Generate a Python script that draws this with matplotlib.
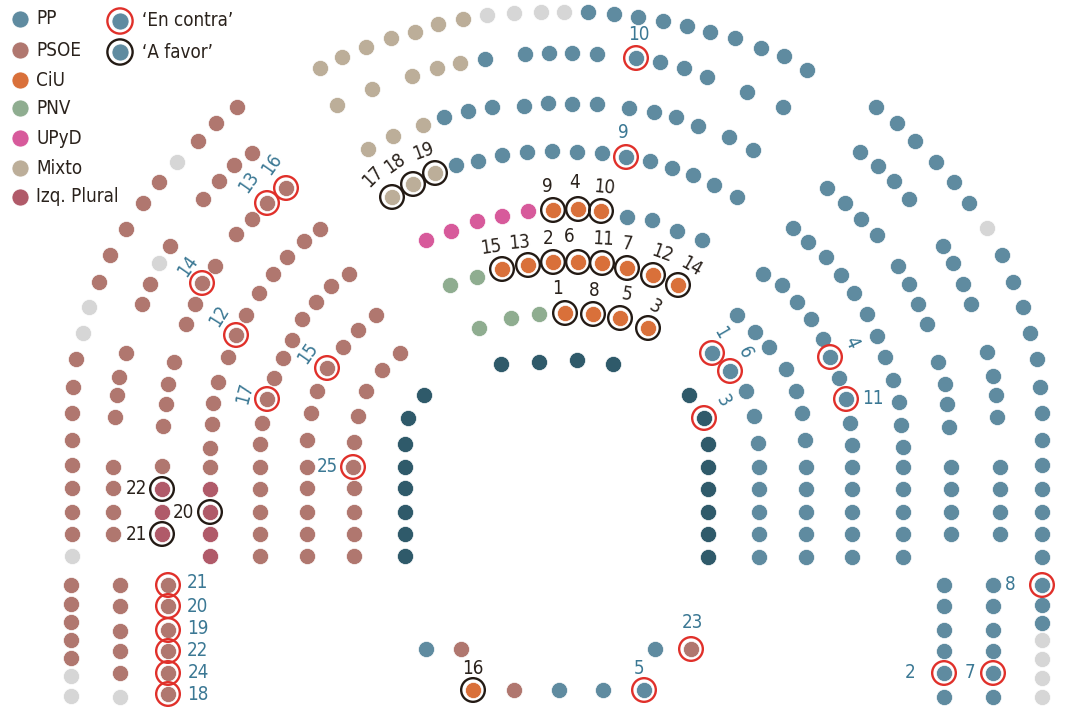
import matplotlib
matplotlib.use("Agg")
import matplotlib.pyplot as plt

plt.rcParams["font.family"] = ["DejaVu Sans"]
plt.rcParams["font.stretch"] = "condensed"

# ---------------- data ----------------
parties = ["PP", "PSOE", "CiU", "PNV", "UPyD", "Mixto", "Izq. Plural"]

# Seat map (x, y in the chart's seat-map units, y grows downwards)
seats_pp = [
    # row 8
    (588, 12), (614, 14), (638, 17), (663, 21), (687, 26), (710, 32), (735, 38), (761, 48), (784, 56), (807, 70),
    (876, 107), (897, 123), (915, 141), (936, 162), (954, 182), (969, 203),
    (1002, 255), (1013, 282), (1023, 307), (1030, 333), (1037, 359), (1040, 387), (1042, 413), (1042, 440),
    (1042, 465), (1042, 489), (1042, 512), (1042, 534), (1042, 557), (1042, 585), (1042, 605), (1042, 623),
    # row 7
    (485, 59), (525, 54), (549, 53), (572, 53), (597, 54), (636, 58), (660, 62), (684, 68), (707, 77), (747, 92), (783, 107),
    (860, 152), (878, 166), (894, 181), (909, 199),
    (943, 246), (953, 263), (963, 284), (971, 304),
    (987, 352), (993, 376), (996, 395), (997, 417),
    (1000, 467), (1000, 489), (1000, 512), (1000, 534),
    (993, 585), (993, 606), (993, 630), (993, 651), (993, 673), (993, 697),
    # row 6
    (444, 117), (468, 111), (492, 107), (524, 106), (548, 103), (572, 104), (597, 104), (629, 108), (654, 112),
    (676, 117), (698, 126), (729, 137), (753, 150),
    (827, 188), (845, 203), (861, 219), (877, 235),
    (898, 266), (909, 284), (918, 304), (927, 324),
    (938, 362), (945, 384), (947, 404), (949, 427),
    (951, 467), (951, 489), (951, 512), (951, 534),
    (944, 585), (944, 606), (944, 630), (944, 651), (944, 673), (944, 697),
    # row 5
    (456, 165), (478, 161), (502, 155), (527, 152), (552, 151), (577, 152), (602, 153), (626, 157), (650, 161),
    (672, 168), (693, 175), (714, 185), (737, 197),
    (793, 228), (808, 242), (826, 257), (841, 275), (854, 293), (867, 314), (877, 336), (885, 357), (893, 380),
    (899, 402), (901, 425), (903, 447), (903, 467), (903, 489), (903, 512), (903, 534), (903, 557),
    # row 4
    (627, 217), (652, 220), (677, 231), (702, 240),
    (763, 274), (782, 285), (797, 302), (811, 319), (823, 339), (830, 357), (839, 378), (846, 399), (850, 423),
    (852, 445), (852, 467), (852, 489), (852, 512), (852, 534), (852, 557),
    # row 3
    (737, 315), (755, 332), (769, 347), (786, 369), (796, 391), (802, 413), (805, 440), (806, 467), (806, 489),
    (806, 512), (806, 534), (806, 557),
    # row 2
    (712, 353), (730, 371), (746, 391), (754, 416), (758, 443), (759, 467), (759, 489), (759, 512), (759, 534), (759, 557),
    # front
    (426, 649), (655, 649), (559, 690), (603, 690), (644, 690),
]

seats_gov = [
    (405, 556), (405, 534), (405, 512), (405, 488), (405, 467), (405, 444), (408, 418), (424, 395),
    (501, 364), (539, 362), (577, 360), (613, 364),
    (689, 395), (704, 418), (708, 444), (708, 467), (708, 489), (708, 512), (708, 534), (708, 557),
]

seats_psoe = [
    # row 8
    (71, 585), (71, 604), (71, 622), (71, 640), (71, 658),
    (72, 534), (72, 512), (72, 488), (72, 465), (72, 440), (72, 413), (73, 387), (76, 359),
    (99, 282), (110, 255), (126, 229), (143, 203), (159, 182), (198, 141), (216, 123), (237, 107),
    # row 7
    (120, 585), (120, 606), (120, 631), (120, 651), (120, 673),
    (113, 534), (113, 512), (113, 488), (113, 467), (115, 417), (117, 395), (119, 377), (126, 353),
    (142, 304), (150, 284), (170, 246), (203, 199), (219, 181), (234, 165), (252, 153),
    # row 6
    (168, 585), (168, 606), (168, 630), (168, 651), (168, 673), (168, 694),
    (162, 466), (163, 426), (166, 404), (168, 384), (174, 362),
    (186, 324), (195, 304), (202, 283), (215, 266), (236, 234), (252, 219), (267, 203), (286, 188),
    # row 5
    (210, 467), (210, 448), (212, 424), (213, 403), (218, 382), (228, 357), (236, 335), (246, 315),
    (259, 293), (273, 274), (287, 257), (304, 241), (320, 229),
    # row 4
    (260, 556), (260, 534), (260, 512), (260, 489), (260, 467), (260, 444), (262, 423), (267, 399),
    (274, 378), (283, 358), (292, 340), (302, 319), (316, 302), (331, 286), (349, 274),
    # row 3
    (307, 556), (307, 534), (307, 512), (307, 488), (307, 467), (307, 440), (311, 413), (317, 391),
    (327, 368), (343, 347), (358, 330), (376, 315),
    # row 2
    (354, 556), (354, 534), (354, 512), (354, 488), (353, 467), (354, 442), (358, 416), (366, 391),
    (382, 370), (400, 353),
    # front
    (461, 649), (691, 649), (514, 690),
]

seats_ciu = [
    (553, 210), (578, 209), (601, 211),
    (502, 269), (528, 265), (553, 262), (578, 262), (602, 263), (627, 268), (653, 275), (678, 285),
    (565, 313), (593, 314), (620, 318), (648, 328),
    (473, 690),
]

seats_pnv = [(450, 285), (477, 277), (479, 328), (511, 318), (539, 314)]

seats_upyd = [(426, 240), (451, 231), (477, 221), (502, 216), (528, 211)]

seats_mixto = [
    (320, 68), (342, 57), (366, 47), (391, 38), (415, 32), (438, 24), (463, 19),
    (337, 105), (372, 89), (412, 76), (437, 68), (460, 63),
    (368, 149), (393, 136), (423, 125),
    (392, 197), (413, 184), (435, 173),
]

seats_izq = [(162, 489), (162, 512), (162, 534), (210, 489), (210, 512), (210, 534), (210, 556)]

seats_empty = [
    (72, 556), (83, 333), (89, 307), (159, 263), (177, 162),
    (487, 15), (514, 13), (541, 12), (564, 12),
    (71, 676), (71, 696), (120, 697),
    (987, 228), (1042, 640), (1042, 659), (1042, 678), (1042, 697),
]

# Votes: seat, vote number, label anchor, rotation, alignment
votes_contra = [
    ((636, 58), "10", (639, 35), 0, "center"),
    ((626, 157), "9", (623, 132), 0, "center"),
    ((286, 188), "16", (272, 164), 55, "center"),
    ((267, 203), "13", (249, 182), 55, "center"),
    ((202, 283), "14", (188, 266), 55, "center"),
    ((236, 335), "12", (219, 316), 58, "center"),
    ((327, 368), "15", (308, 353), 55, "center"),
    ((267, 399), "17", (245, 393), 75, "center"),
    ((353, 467), "25", (338, 467), 0, "right"),
    ((168, 585), "21", (187, 583), 0, "left"),
    ((168, 606), "20", (187, 606), 0, "left"),
    ((168, 630), "19", (187, 628), 0, "left"),
    ((168, 651), "22", (187, 650), 0, "left"),
    ((168, 673), "24", (188, 673), 0, "left"),
    ((168, 694), "18", (187, 695), 0, "left"),
    ((712, 353), "1", (721, 333), -60, "center"),
    ((730, 371), "6", (745, 352), -65, "center"),
    ((704, 418), "3", (723, 401), -60, "center"),
    ((830, 357), "4", (851, 343), -65, "center"),
    ((846, 399), "11", (862, 399), 0, "left"),
    ((1042, 585), "8", (1015, 585), 0, "right"),
    ((944, 673), "2", (915, 673), 0, "right"),
    ((993, 673), "7", (975, 673), 0, "right"),
    ((691, 649), "23", (692, 623), 0, "center"),
    ((644, 690), "5", (639, 668), 0, "center"),
]

votes_favor = [
    ((392, 197), "17", (373, 177), 45, "center"),
    ((413, 184), "18", (395, 163), 35, "center"),
    ((435, 173), "19", (423, 151), 20, "center"),
    ((553, 210), "9", (547, 187), 0, "center"),
    ((578, 209), "4", (575, 183), 0, "center"),
    ((601, 211), "10", (604, 187), -5, "center"),
    ((502, 269), "15", (491, 247), 8, "center"),
    ((528, 265), "13", (519, 243), 5, "center"),
    ((553, 262), "2", (548, 238), 0, "center"),
    ((578, 262), "6", (569, 237), 0, "center"),
    ((602, 263), "11", (603, 239), -3, "center"),
    ((627, 268), "7", (627, 244), -5, "center"),
    ((653, 275), "12", (662, 253), -20, "center"),
    ((678, 285), "14", (691, 267), -30, "center"),
    ((565, 313), "1", (558, 289), 0, "center"),
    ((593, 314), "8", (594, 290), 0, "center"),
    ((620, 318), "5", (627, 295), -10, "center"),
    ((648, 328), "3", (655, 307), -30, "center"),
    ((162, 489), "22", (147, 489), 0, "right"),
    ((210, 512), "20", (194, 512), 0, "right"),
    ((162, 534), "21", (147, 534), 0, "right"),
    ((473, 690), "16", (473, 669), 0, "center"),
]

vote_labels = ["\u2018En contra\u2019", "\u2018A favor\u2019"]

# ---------------- style ----------------
colors = {
    "PP": "#5f8ba0", "PSOE": "#b0776f", "CiU": "#d9703a", "PNV": "#8fad90",
    "UPyD": "#d75a9b", "Mixto": "#bcae99", "Izq. Plural": "#b05a69",
    "gov": "#2f5a6a", "empty": "#d6d6d6",
}
RED = "#e0302a"
BLACK = "#231a14"
BLUE_TXT = "#3b7894"
DARK_TXT = "#2a221c"

W, H = 1065, 709
fig = plt.figure(figsize=(W / 100, H / 100), dpi=100)
ax = fig.add_axes([0, 0, 1, 1])
ax.set_xlim(0, W)
ax.set_ylim(H, 0)
ax.axis("off")

DOT = 135
RING = 290
RING_LW = 1.7
FS = 13.5

groups = [
    (seats_empty, colors["empty"]),
    (seats_pp, colors["PP"]),
    (seats_gov, colors["gov"]),
    (seats_psoe, colors["PSOE"]),
    (seats_ciu, colors["CiU"]),
    (seats_pnv, colors["PNV"]),
    (seats_upyd, colors["UPyD"]),
    (seats_mixto, colors["Mixto"]),
    (seats_izq, colors["Izq. Plural"]),
]
for pts, col in groups:
    xs = [p[0] for p in pts]
    ys = [p[1] for p in pts]
    ax.scatter(xs, ys, s=DOT, c=col, edgecolors="white", linewidths=0.5, zorder=3)

for votes, ring_col, txt_col in [(votes_contra, RED, BLUE_TXT), (votes_favor, BLACK, DARK_TXT)]:
    ax.scatter([v[0][0] for v in votes], [v[0][1] for v in votes], s=RING,
               facecolors="none", edgecolors=ring_col, linewidths=RING_LW, zorder=4)
    for seat, num, (tx, ty), rot, ha in votes:
        ax.text(tx, ty, num, fontsize=FS, color=txt_col, rotation=rot, ha=ha, va="center",
                rotation_mode="anchor", zorder=5)

# legend
leg_y = [19, 50, 80, 108, 138, 168, 197]
for name, yy in zip(parties, leg_y):
    ax.scatter([20], [yy], s=150, c=colors[name], edgecolors="white", linewidths=0.5, zorder=3)
    ax.text(36, yy, name, fontsize=FS, color=DARK_TXT, ha="left", va="center")

for lab, yy, rc in zip(vote_labels, [21, 52], [RED, BLACK]):
    ax.scatter([120], [yy], s=150, c=colors["PP"], edgecolors="white", linewidths=0.5, zorder=3)
    ax.scatter([120], [yy], s=330, facecolors="none", edgecolors=rc, linewidths=RING_LW, zorder=4)
    ax.text(142, yy, lab, fontsize=FS, color=DARK_TXT, ha="left", va="center")

fig.savefig("out.png", dpi=100, facecolor="white")
